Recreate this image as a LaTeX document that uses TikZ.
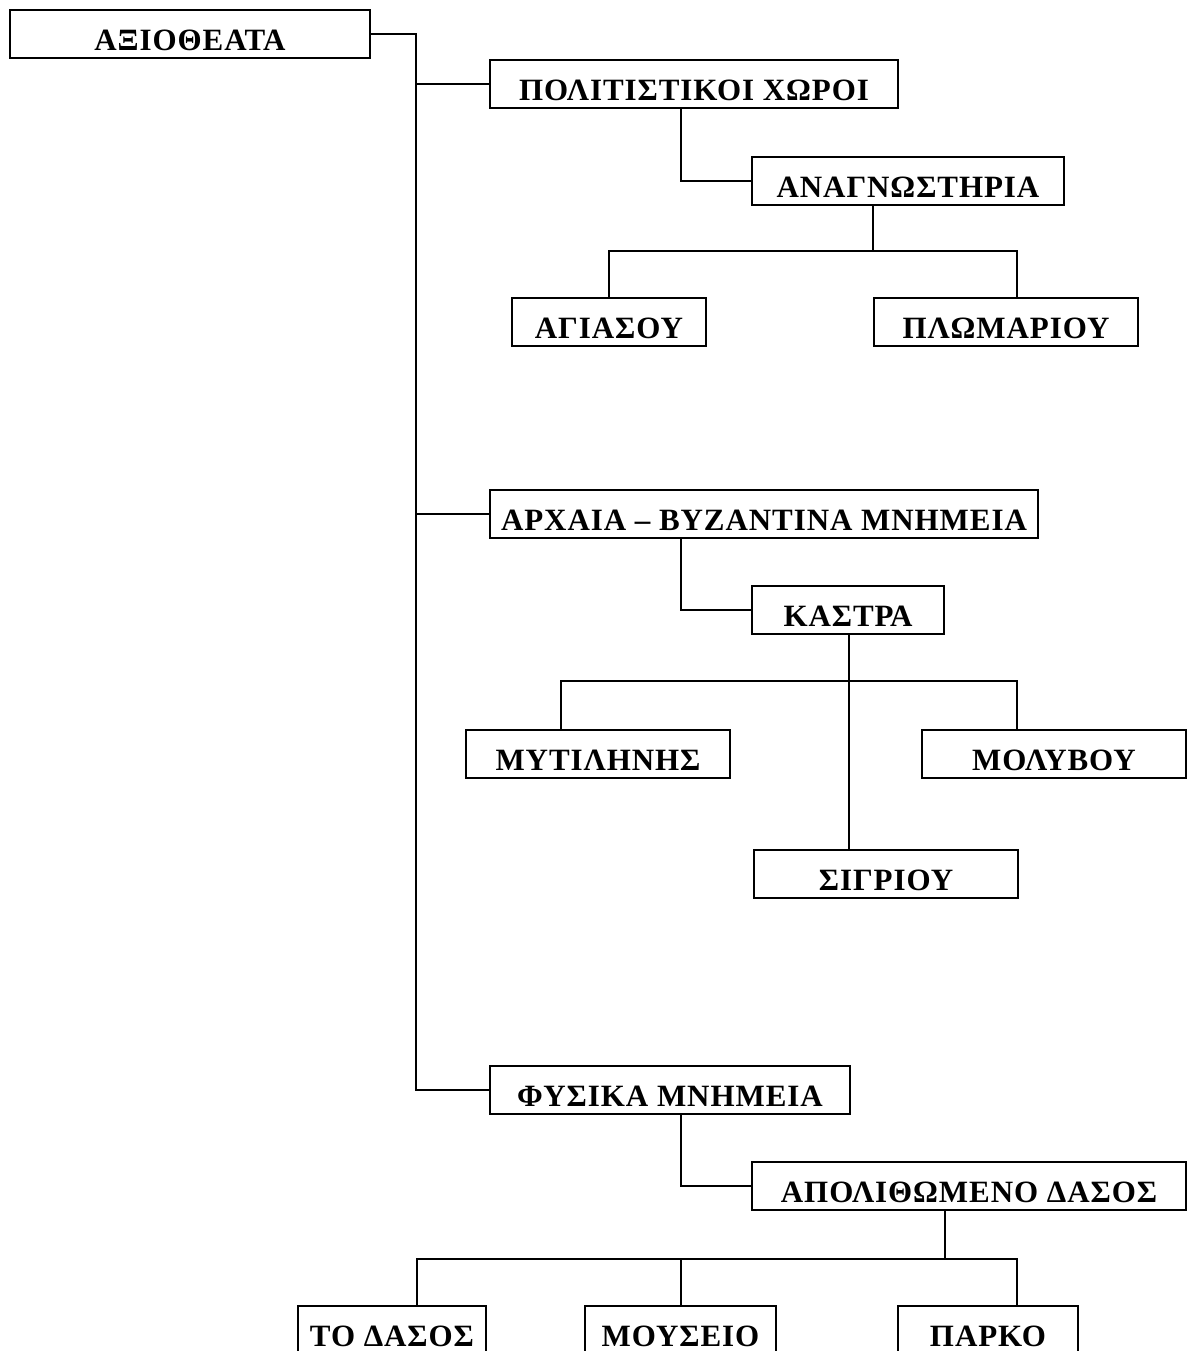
\documentclass[tikz,border=0pt]{standalone}
\usepackage{fontspec}
\setmainfont{Liberation Serif}
\newfontfamily\boxfont{Liberation Serif}[LetterSpace=3]
\usepackage{tikz}
\usetikzlibrary{positioning, calc}

\begin{document}
\begin{tikzpicture}[x=1pt, y=-1pt,
    mapbox/.style={draw, line width=2pt, minimum height=48pt, inner sep=0pt, text height=33pt, text depth=0pt, font=\boxfont\bfseries\fontsize{31}{33}\selectfont},
    link/.style={line width=2pt}]
    \useasboundingbox (0,0) rectangle (1193,1351);

    % Root
    \node[mapbox, minimum width=360pt] (root) at (190, 34) {ΑΞΙΟΘΕΑΤΑ};

    % Branch 1
    \node[mapbox, minimum width=408pt] (pol) at (694, 84) {ΠΟΛΙΤΙΣΤΙΚΟΙ ΧΩΡΟΙ};
    \node[mapbox, minimum width=312pt] (anag) at (908, 181) {ΑΝΑΓΝΩΣΤΗΡΙΑ};
    \node[mapbox, minimum width=194pt] (agi) at (609, 322) {ΑΓΙΑΣΟΥ};
    \node[mapbox, minimum width=264pt] (plo) at (1006, 322) {ΠΛΩΜΑΡΙΟΥ};

    % Branch 2
    \node[mapbox, minimum width=548pt] (arx) at (764, 514) {ΑΡΧΑΙΑ – ΒΥΖΑΝΤΙΝΑ ΜΝΗΜΕΙΑ};
    \node[mapbox, minimum width=192pt] (kas) at (848, 610) {ΚΑΣΤΡΑ};
    \node[mapbox, minimum width=264pt] (myt) at (598, 754) {ΜΥΤΙΛΗΝΗΣ};
    \node[mapbox, minimum width=264pt] (mol) at (1054, 754) {ΜΟΛΥΒΟΥ};
    \node[mapbox, minimum width=264pt] (sig) at (886, 874) {ΣΙΓΡΙΟΥ};

    % Branch 3
    \node[mapbox, minimum width=360pt] (fys) at (670, 1090) {ΦΥΣΙΚΑ ΜΝΗΜΕΙΑ};
    \node[mapbox, minimum width=434pt] (apol) at (969, 1186) {ΑΠΟΛΙΘΩΜΕΝΟ ΔΑΣΟΣ};
    \node[mapbox, minimum width=188pt] (das) at (392, 1330) {ΤΟ ΔΑΣΟΣ};
    \node[mapbox, minimum width=191pt] (mous) at (680.5, 1330) {ΜΟΥΣΕΙΟ};
    \node[mapbox, minimum width=180pt] (park) at (988, 1330) {ΠΑΡΚΟ};

    % Trunk
    \draw[link] (root.east) -| ([xshift=-73pt]fys.west) -- (fys.west);
    \draw[link] ([xshift=-73pt]pol.west) -- (pol.west);
    \draw[link] ([xshift=-73pt]arx.west) -- (arx.west);

    % Elbows
    \draw[link] ([xshift=192pt]pol.south west) |- (anag.west);
    \draw[link] ([xshift=192pt]arx.south west) |- (kas.west);
    \draw[link] ([xshift=192pt]fys.south west) |- (apol.west);

    % Forks
    \draw[link] ([xshift=122pt]anag.south west) -- ++(0,45) coordinate (f1);
    \draw[link] (agi.north) |- (f1) -| ([xshift=144pt]plo.north west);

    \draw[link] ([xshift=98pt]kas.south west) -- ([xshift=96pt]sig.north west);
    \draw[link] ([xshift=96pt]myt.north west) -- ++(0,-48) -| ([xshift=96pt]mol.north west);

    \draw[link] ([xshift=194pt]apol.south west) -- ++(0,48) coordinate (f3);
    \draw[link] ([xshift=120pt]das.north west) |- (f3) -| ([xshift=120pt]park.north west);
    \draw[link] ([xshift=97pt]mous.north west) -- ([xshift=97pt]mous.north west |- f3);
\end{tikzpicture}
\end{document}
